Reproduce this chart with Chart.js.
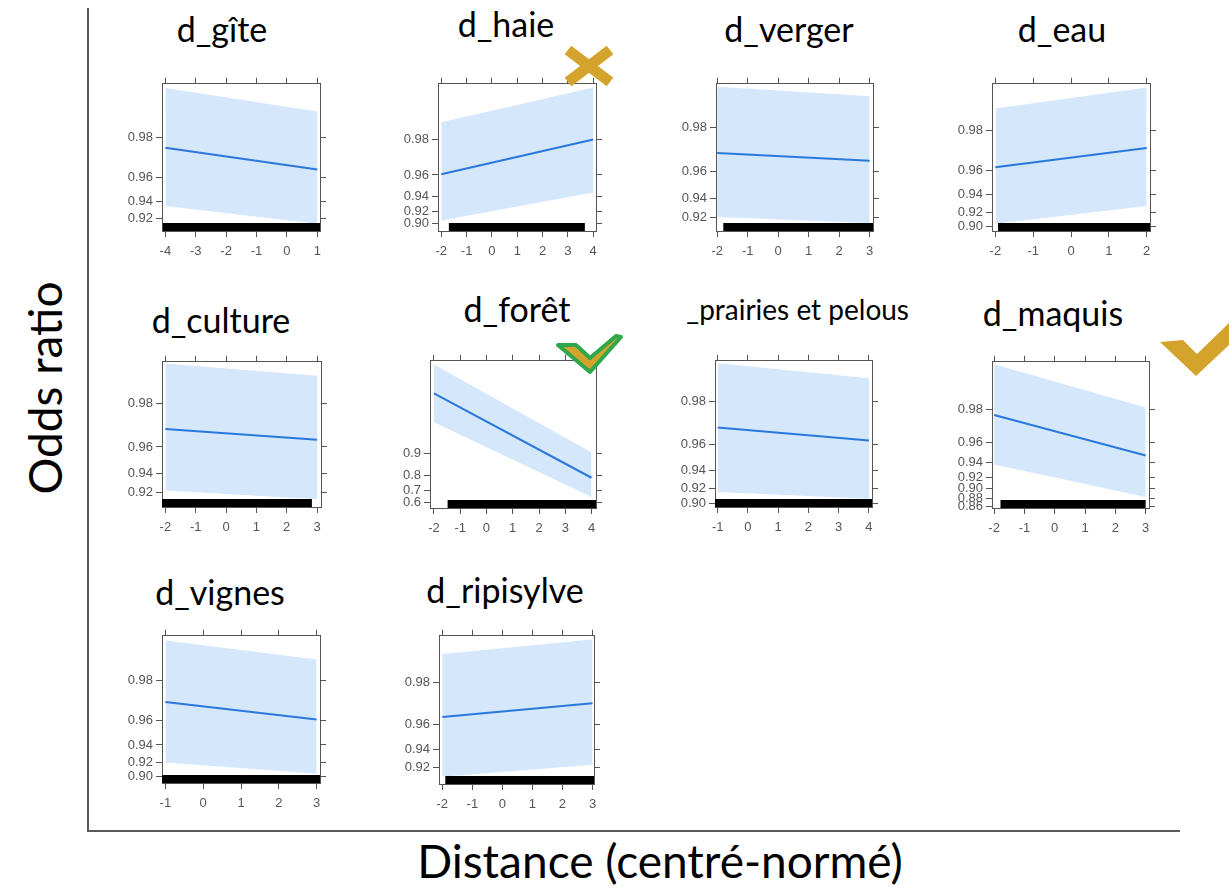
<!DOCTYPE html>
<html>
<head>
<meta charset="utf-8">
<script src="https://cdn.jsdelivr.net/npm/chart.js@4.4.1/dist/chart.umd.min.js"></script>
<style>
  body { margin: 0; background: #fff; width: 1229px; height: 890px; overflow: hidden; position: relative; font-family: 'Lato', sans-serif; }
  .panel { position: absolute; }
  .title { position: absolute; font-size: 34px; line-height: 34px; color: #000; white-space: nowrap; transform: translateX(-50%); }
  .clipTitle { position: absolute; overflow: hidden; white-space: nowrap; font-size: 28px; line-height: 30px; }
  .clipTitle span { position: absolute; right: 0; top: 0; }
  .frameLine { position: absolute; background: #5a5a5a; }
  #ylab { position: absolute; left: 45px; top: 388px; font-size: 46px; line-height: 46px; white-space: nowrap; transform: translate(-50%, -50%) rotate(-90deg); }
  #xlab { position: absolute; left: 660px; top: 838px; font-size: 46px; line-height: 46px; white-space: nowrap; transform: translateX(-50%); }
  svg { position: absolute; left: 0; top: 0; }
</style>
</head>
<body>
<div class="frameLine" style="left:87px; top:8px; width:2px; height:824px;"></div>
<div class="frameLine" style="left:87px; top:830px; width:1093px; height:2px;"></div>
<div id="ylab">Odds ratio</div>
<div id="xlab">Distance (centré-normé)</div>

<script>
// panel titles
const panelNames = ['d_gîte', 'd_haie', 'd_verger', 'd_eau', 'd_culture', 'd_forêt', 'd_prairies et pelous', 'd_maquis', 'd_vignes', 'd_ripisylve'];

// distance range covered by the fitted line
const xStart = [-4, -2, -2, -2, -2, -2, -1, -2, -1, -2];
const xEnd   = [1, 4, 3, 2, 3, 4, 4, 3, 3, 3];

// fitted odds ratio at start / end
const fitStart = [0.976, 0.9605, 0.9702, 0.9624, 0.9698, 0.9884, 0.9697, 0.9774, 0.971, 0.9645];
const fitEnd   = [0.965, 0.980, 0.9663, 0.973, 0.9642, 0.787, 0.9626, 0.948, 0.9609, 0.9717];

// confidence band
const upperStart = [0.9916, 0.9858, 0.9896, 0.9864, 0.9894, 0.996, 0.9894, 0.9922, 0.990, 0.9875];
const upperEnd   = [0.9873, 0.9929, 0.9879, 0.9906, 0.9871, 0.905, 0.9864, 0.9807, 0.9861, 0.9902];
const lowerStart = [0.935, 0.9058, 0.920, 0.9038, 0.922, 0.9666, 0.9161, 0.9377, 0.920, 0.908];
const lowerEnd   = [0.913, 0.944, 0.9125, 0.9277, 0.911, 0.643, 0.907, 0.883, 0.904, 0.9235];

// rug of observations (x extent)
const rugStart = [-4.08, -1.7, -1.8, -1.93, -2.11, -1.48, -1.09, -1.79, -1.09, -1.9];
const rugEnd   = [1.09, 3.67, 3.11, 2.09, 2.83, 4.17, 4.1, 3.0, 3.09, 3.05];

// axis limits
const xMin = [-4.11, -2.13, -2.04, -2.09, -2.11, -2.15, -1.09, -2.07, -1.09, -2.11];
const xMax = [1.09, 4.11, 3.11, 2.09, 3.13, 4.17, 4.1, 3.11, 3.09, 3.05];
const yMin = [0.9022, 0.8859, 0.9017, 0.8918, 0.9002, 0.5457, 0.8948, 0.8564, 0.889, 0.8972];
const yMax = [0.9922, 0.9934, 0.9901, 0.9912, 0.9897, 0.9965, 0.9898, 0.9926, 0.9908, 0.9908];

// tick labels
const xTicks = [
  [-4, -3, -2, -1, 0, 1], [-2, -1, 0, 1, 2, 3, 4], [-2, -1, 0, 1, 2, 3], [-2, -1, 0, 1, 2],
  [-2, -1, 0, 1, 2, 3], [-2, -1, 0, 1, 2, 3, 4], [-1, 0, 1, 2, 3, 4], [-2, -1, 0, 1, 2, 3],
  [-1, 0, 1, 2, 3], [-2, -1, 0, 1, 2, 3]
];
const yTicks = [
  ['0.92', '0.94', '0.96', '0.98'], ['0.90', '0.92', '0.94', '0.96', '0.98'],
  ['0.92', '0.94', '0.96', '0.98'], ['0.90', '0.92', '0.94', '0.96', '0.98'],
  ['0.92', '0.94', '0.96', '0.98'], ['0.6', '0.7', '0.8', '0.9'],
  ['0.90', '0.92', '0.94', '0.96', '0.98'], ['0.86', '0.88', '0.90', '0.92', '0.94', '0.96', '0.98'],
  ['0.90', '0.92', '0.94', '0.96', '0.98'], ['0.92', '0.94', '0.96', '0.98']
];

// layout: plot frame in page pixels [left, top, right, bottom]
const frames = [
  [162, 83, 320, 231], [438, 83, 596, 231], [716, 83, 873, 231], [992, 83, 1150, 231],
  [162, 361, 321, 507], [430, 360, 596, 508], [715, 360, 872, 507], [992, 361, 1149, 508],
  [162, 635, 320, 783], [439, 635, 594, 784]
];
// title centre x and top
const titlePos = [[222, 12], [506, 7], [789, 12], [1062, 12], [221, 303], [517, 292], [null, 294], [1053, 296], [220, 575], [505, 573]];

const logit = p => Math.log(p / (1 - p));

const PADL = 55, PADR = 10, PADT = 10, PADB = 34;
const axisColor = '#555';
const tickFont = { family: 'Liberation Sans, Arial, sans-serif', size: 13 };

panelNames.forEach((name, i) => {
  const [l, t, r, b] = frames[i];
  const w = r - l + PADL + PADR, h = b - t + PADT + PADB;
  const div = document.createElement('div');
  div.className = 'panel';
  div.style.left = (l - PADL) + 'px';
  div.style.top = (t - PADT) + 'px';
  const cv = document.createElement('canvas');
  cv.width = w; cv.height = h;
  cv.style.width = w + 'px'; cv.style.height = h + 'px';
  div.appendChild(cv);
  document.body.appendChild(div);

  // title (the long one is cut off on the left, as on the slide)
  if (titlePos[i][0] === null) {
    const c = document.createElement('div');
    c.className = 'clipTitle';
    c.style.left = '687px'; c.style.top = titlePos[i][1] + 'px';
    c.style.width = '222px'; c.style.height = '36px';
    const s = document.createElement('span');
    s.textContent = name;
    c.appendChild(s);
    document.body.appendChild(c);
  } else {
    const tt = document.createElement('div');
    tt.className = 'title';
    tt.textContent = name;
    tt.style.left = titlePos[i][0] + 'px';
    tt.style.top = titlePos[i][1] + 'px';
    document.body.appendChild(tt);
  }

  const xt = xTicks[i];
  const yt = yTicks[i].map(s => logit(parseFloat(s)));
  const yLabel = {};
  yTicks[i].forEach(s => { yLabel[logit(parseFloat(s)).toFixed(6)] = s; });

  const xAxis = (pos, showLabels) => ({
    type: 'linear', position: pos, min: xMin[i], max: xMax[i],
    afterBuildTicks: s => { s.ticks = xt.map(v => ({ value: v })); },
    afterFit: s => { s.height = pos === 'bottom' ? PADB : PADT; },
    grid: { drawOnChartArea: false, drawTicks: true, tickLength: 6, color: axisColor },
    border: { display: true, color: axisColor, width: 1 },
    ticks: { display: showLabels, font: tickFont, color: '#555', padding: 7, maxRotation: 0,
             callback: v => String(v) }
  });
  const yAxis = (pos, showLabels) => ({
    type: 'linear', position: pos, min: logit(yMin[i]), max: logit(yMax[i]),
    afterBuildTicks: s => { s.ticks = yt.map(v => ({ value: v })); },
    afterFit: s => { s.width = pos === 'left' ? PADL : PADR; },
    grid: { drawOnChartArea: false, drawTicks: true, tickLength: 6, color: axisColor },
    border: { display: true, color: axisColor, width: 1 },
    ticks: { display: showLabels, font: tickFont, color: '#555', padding: 3,
             callback: v => yLabel[v.toFixed(6)] || '' }
  });

  new Chart(cv, {
    type: 'line',
    data: {
      datasets: [
        { // rug
          data: [{ x: rugStart[i], y: logit(yMin[i]) }, { x: rugEnd[i], y: logit(yMin[i]) }],
          borderColor: '#000', borderWidth: 16, borderCapStyle: 'butt', pointRadius: 0, clip: 0
        },
        { // fitted
          data: [{ x: xStart[i], y: logit(fitStart[i]) }, { x: xEnd[i], y: logit(fitEnd[i]) }],
          borderColor: '#2a78dc', borderWidth: 2, pointRadius: 0, clip: 0
        },
        { // upper
          data: [{ x: xStart[i], y: logit(upperStart[i]) }, { x: xEnd[i], y: logit(upperEnd[i]) }],
          borderWidth: 0, borderColor: 'rgba(0,0,0,0)', backgroundColor: '#d5e7fb',
          fill: '+1', pointRadius: 0, clip: 0
        },
        { // lower
          data: [{ x: xStart[i], y: logit(lowerStart[i]) }, { x: xEnd[i], y: logit(lowerEnd[i]) }],
          borderWidth: 0, borderColor: 'rgba(0,0,0,0)', pointRadius: 0, clip: 0
        }
      ]
    },
    options: {
      responsive: false,
      animation: false,
      devicePixelRatio: 1,
      layout: { padding: 0 },
      plugins: { legend: { display: false }, tooltip: { enabled: false } },
      elements: { line: { tension: 0 } },
      scales: {
        x: xAxis('bottom', true),
        xTop: xAxis('top', false),
        y: yAxis('left', true),
        yRight: yAxis('right', false)
      }
    }
  });
});
</script>

<svg width="1229" height="890">
  <!-- cross next to d_haie -->
  <g stroke="#d4a32c" stroke-width="11" stroke-linecap="butt">
    <line x1="568" y1="50" x2="610" y2="82"/>
    <line x1="610" y1="50" x2="568" y2="82"/>
  </g>
  <!-- check next to d_forêt -->
  <polygon points="558,345 576,345 590,358 616,336 621,337 590,372" fill="#d4a32c" stroke="#2ea84a" stroke-width="4" stroke-linejoin="round"/>
  <!-- check next to d_maquis -->
  <polygon points="1160,342 1183,340 1197,354 1229,323 1229,345 1196,376" fill="#d4a32c"/>
</svg>
</body>
</html>
